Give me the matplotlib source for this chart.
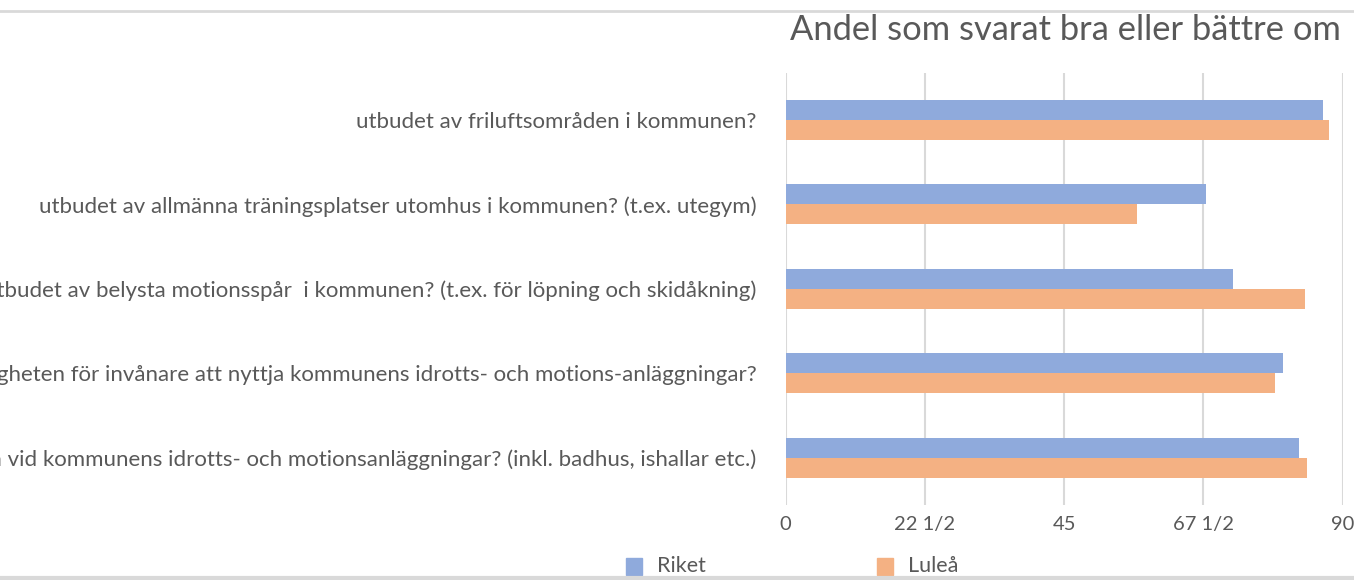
import matplotlib
matplotlib.use("Agg")
import matplotlib.pyplot as plt
import numpy as np
from matplotlib.lines import Line2D
from matplotlib.patches import Rectangle

categories = [
    "utbudet av friluftsområden i kommunen?",
    "utbudet av allmänna träningsplatser utomhus i kommunen? (t.ex. utegym)",
    "utbudet av belysta motionsspår  i kommunen? (t.ex. för löpning och skidåkning)",
    "möjligheten för invånare att nyttja kommunens idrotts- och motions-anläggningar?",
    "öppettiderna vid kommunens idrotts- och motionsanläggningar? (inkl. badhus, ishallar etc.)",
]
riket = [86.8, 67.9, 72.3, 80.4, 83.0]
lulea = [87.8, 56.8, 83.9, 79.0, 84.2]
series_names = ["Riket", "Luleå"]
xticks = [0, 22.5, 45, 67.5, 90]
xticklabels = ["0", "22 1/2", "45", "67 1/2", "90"]
title = "Andel som svarat bra eller bättre om"

c_riket = "#8faadc"
c_lulea = "#f4b183"
txt = "#595959"
font = "Lato"

fig = plt.figure(figsize=(13.54, 5.80), dpi=100)
ax = fig.add_axes([785.5/1354, 1-505/580, (1342.6-785.5)/1354, (505-73)/580])

y = np.arange(len(categories))
h = 0.237
ax.barh(y - h/2, riket, height=h, color=c_riket, zorder=3)
ax.barh(y + h/2, lulea, height=h, color=c_lulea, zorder=3)
ax.set_ylim(4.562, -0.557)
ax.set_xlim(0, 90)
ax.set_xticks(xticks)
ax.set_xticklabels(xticklabels, fontsize=14.5, color=txt, family=font)
ax.set_yticks(y)
ax.set_yticklabels(categories, fontsize=16, color=txt, family=font)
ax.tick_params(axis="both", length=0)
ax.tick_params(axis="y", pad=21)
ax.tick_params(axis="x", pad=8)
for s in ax.spines.values():
    s.set_visible(False)
ax.grid(axis="x", color="#d9d9d9", linewidth=1.5, zorder=0)
ax.set_axisbelow(True)

fig.text(790/1354, 1-30/580, title, fontsize=24.8, color=txt, family=font, ha="left", va="center")

# chart border lines (top and bottom)
fig.add_artist(Line2D([0, 1], [1-11/580, 1-11/580], color="#d9d9d9", lw=2, transform=fig.transFigure))
fig.add_artist(Line2D([0, 1], [1-578/580, 1-578/580], color="#d9d9d9", lw=3, transform=fig.transFigure))

# legend
for name, col, x0 in zip(series_names, [c_riket, c_lulea], [626, 877]):
    fig.add_artist(Rectangle((x0/1354, 1-575/580), 16/1354, 17/580, color=col, transform=fig.transFigure))
    fig.text((x0+31)/1354, 1-566/580, name, fontsize=15.5, color=txt, family=font, ha="left", va="center")

fig.savefig("out.png", dpi=100, facecolor="white")
